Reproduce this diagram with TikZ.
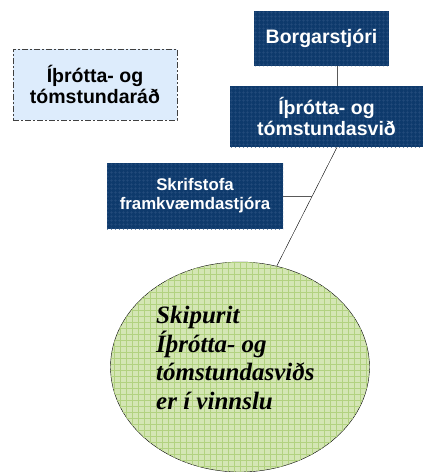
\documentclass[tikz,border=0pt]{standalone}
\usepackage{fontspec}
\setmainfont{Liberation Serif}
\setsansfont{Liberation Sans}
\usetikzlibrary{patterns.meta,shapes.geometric,calc}
\definecolor{navy}{RGB}{14,58,108}
\definecolor{navygrid}{RGB}{36,76,124}
\definecolor{paleblue}{RGB}{221,236,252}
\definecolor{leaf}{RGB}{212,230,180}
\definecolor{leafgrid}{RGB}{178,210,128}
\begin{document}
\begin{tikzpicture}[x=1pt,y=-1pt,
	unit/.style={fill=navy, text=white, font=\sffamily\bfseries\fontsize{19.5}{21}\selectfont,
		align=center, inner sep=0pt,
		postaction={pattern={Hatch[distance=4pt,angle=0,line width=0.5pt]}, pattern color=navygrid}},
	council/.style={fill=paleblue, draw=black!75, dash pattern=on 6pt off 2pt on 2pt off 2pt,
		font=\sffamily\bfseries\fontsize{19.5}{21}\selectfont, align=center, inner sep=0pt},
	plan/.style={ellipse, draw=black, thin, fill=leaf,
		postaction={pattern={Hatch[distance=6pt,angle=0,line width=0.6pt]}, pattern color=leafgrid}},
	link/.style={draw=black!65, line width=1pt}]
	\useasboundingbox (0,0) rectangle (423,472);
	
	\node[unit, minimum width=135, minimum height=55] (borg) at (321.5,38.5) {Borgarstjóri};
	\node[unit, minimum width=193, minimum height=61] (svid) at (326.5,116.5) {Íþrótta- og\\tómstundasvið};
	\node[unit, minimum width=176, minimum height=66, font=\sffamily\bfseries\fontsize{16.8}{19}\selectfont] (skrif) at (195,196) {Skrifstofa\\framkvæmdastjóra};
	\node[council, minimum width=164, minimum height=71] (rad) at (95,84.5) {Íþrótta- og\\tómstundaráð};
	
	\node[plan, minimum width=259, minimum height=210] (plan) at (240,367) {};
	\node[anchor=west, align=left, inner sep=0pt, font=\rmfamily\bfseries\itshape\fontsize{25}{28.5}\selectfont] (plantxt) at (156,358) {Skipurit\\Íþrótta- og\\tómstundasviðs\\er í vinnslu};
	
	\draw[link] ([xshift=15.5]borg.south) -- ([xshift=15.5]borg.south |- svid.north);
	\coordinate (top) at ([xshift=10.5]svid.south);
	\draw[thin] (top) -- (plan.70);
	\coordinate (knee) at ($(top)!0.41!(plan.70)$);
	\draw[link] (skrif.east) -- (skrif.east -| knee);
\end{tikzpicture}
\end{document}
